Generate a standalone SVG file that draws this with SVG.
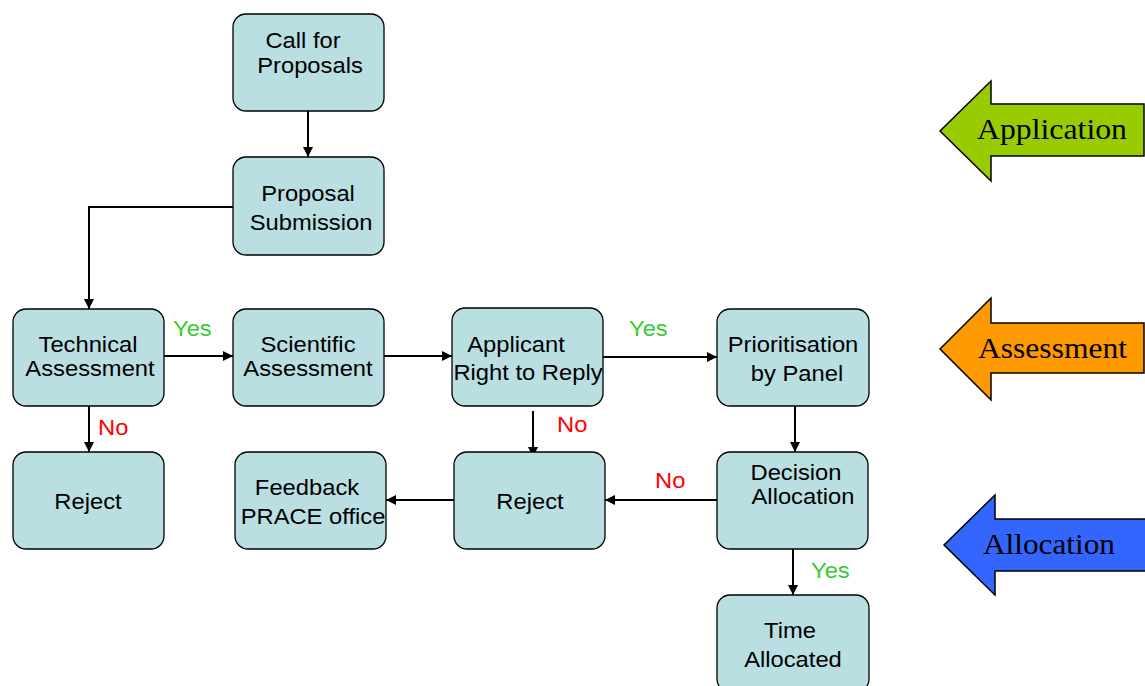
<svg xmlns="http://www.w3.org/2000/svg" width="1145" height="686" viewBox="0 0 1145 686">
  <style>
    .box { fill: #B9DFE2; stroke: #000; stroke-width: 1.3; }
    .lbl { font-family: "Liberation Sans", Arial, sans-serif; font-size: 21.6px; fill: #000; text-anchor: middle; }
    .yes { font-family: "Liberation Sans", Arial, sans-serif; font-size: 21.6px; fill: #33CC33; }
    .no { font-family: "Liberation Sans", Arial, sans-serif; font-size: 21.6px; fill: #FF0000; }
    .conn { fill: none; stroke: #000; stroke-width: 2; marker-end: url(#head); }
    .phase { stroke: #000; stroke-width: 1.5; }
    .phase-txt { font-family: "Liberation Serif", "Times New Roman", serif; font-size: 30px; fill: #000; }
  </style>
  <defs>
    <marker id="head" viewBox="0 0 10 10" refX="10" refY="5" markerWidth="5" markerHeight="5" orient="auto" markerUnits="strokeWidth">
      <path d="M0,0 L10,5 L0,10 z" fill="#000"/>
    </marker>
  </defs>

  <!-- connectors (labels use a slightly widened face) -->
  <g id="connectors">
    <path class="conn" d="M308,111 V157"/>
    <path class="conn" d="M233,207 H89 V309"/>
    <path class="conn" d="M164,356 H233"/>
    <path class="conn" d="M384,356 H452"/>
    <path class="conn" d="M603,357 H717"/>
    <path class="conn" d="M795,406 V452"/>
    <path class="conn" d="M717,500 H605"/>
    <path class="conn" d="M454,500 H386"/>
    <path class="conn" d="M533,411 V457"/>
    <path class="conn" d="M89,406 V452"/>
    <path class="conn" d="M793,549 V595"/>
    <text class="yes" transform="translate(173 336) scale(1.1 1)">Yes</text>
    <text class="yes" transform="translate(629 336) scale(1.1 1)">Yes</text>
    <text class="no" transform="translate(98 435) scale(1.1 1)">No</text>
    <text class="no" transform="translate(557 432) scale(1.1 1)">No</text>
    <text class="no" transform="translate(655 488) scale(1.1 1)">No</text>
    <text class="yes" transform="translate(811 578) scale(1.1 1)">Yes</text>
  </g>

  <!-- process nodes -->
  <g id="call">
    <rect class="box" x="233" y="14" width="151" height="97" rx="13"/>
    <text class="lbl" transform="translate(303 48) scale(1.1 1)">Call for</text>
    <text class="lbl" transform="translate(310 73) scale(1.1 1)">Proposals</text>
  </g>
  <g id="submission">
    <rect class="box" x="233" y="157" width="151" height="98" rx="13"/>
    <text class="lbl" transform="translate(308 201) scale(1.1 1)">Proposal</text>
    <text class="lbl" transform="translate(311 230) scale(1.1 1)">Submission</text>
  </g>
  <g id="technical">
    <rect class="box" x="13" y="309" width="151" height="97" rx="13"/>
    <text class="lbl" transform="translate(88 352) scale(1.1 1)">Technical</text>
    <text class="lbl" transform="translate(90 376) scale(1.1 1)">Assessment</text>
  </g>
  <g id="scientific">
    <rect class="box" x="233" y="309" width="151" height="97" rx="13"/>
    <text class="lbl" transform="translate(308 352) scale(1.1 1)">Scientific</text>
    <text class="lbl" transform="translate(308 376) scale(1.1 1)">Assessment</text>
  </g>
  <g id="reply">
    <rect class="box" x="452" y="308" width="151" height="98" rx="13"/>
    <text class="lbl" transform="translate(516 352) scale(1.1 1)">Applicant</text>
    <text class="lbl" transform="translate(528 380) scale(1.1 1)">Right to Reply</text>
  </g>
  <g id="prioritisation">
    <rect class="box" x="717" y="309" width="152" height="97" rx="13"/>
    <text class="lbl" transform="translate(793 352) scale(1.1 1)">Prioritisation</text>
    <text class="lbl" transform="translate(797 381) scale(1.1 1)">by Panel</text>
  </g>
  <g id="reject-technical">
    <rect class="box" x="13" y="452" width="151" height="97" rx="13"/>
    <text class="lbl" transform="translate(88 509) scale(1.1 1)">Reject</text>
  </g>
  <g id="feedback">
    <rect class="box" x="235" y="452" width="151" height="97" rx="13"/>
    <text class="lbl" transform="translate(307 495) scale(1.1 1)">Feedback</text>
    <text class="lbl" transform="translate(313 524) scale(1.1 1)">PRACE office</text>
  </g>
  <g id="reject">
    <rect class="box" x="454" y="452" width="151" height="97" rx="13"/>
    <text class="lbl" transform="translate(530 509) scale(1.1 1)">Reject</text>
  </g>
  <g id="decision">
    <rect class="box" x="717" y="452" width="151" height="97" rx="13"/>
    <text class="lbl" transform="translate(796 480) scale(1.1 1)">Decision</text>
    <text class="lbl" transform="translate(803 504) scale(1.1 1)">Allocation</text>
  </g>
  <g id="time">
    <rect class="box" x="717" y="595" width="152" height="97" rx="13"/>
    <text class="lbl" transform="translate(790 638) scale(1.1 1)">Time</text>
    <text class="lbl" transform="translate(793 667) scale(1.1 1)">Allocated</text>
  </g>

  <!-- phase arrows -->
  <g id="phase-application">
    <polygon class="phase" fill="#99CC00" points="940,131 991,81 991,104 1144,104 1144,156 991,156 991,181"/>
    <text class="phase-txt" x="977" y="139" textLength="150" lengthAdjust="spacingAndGlyphs">Application</text>
  </g>
  <g id="phase-assessment">
    <polygon class="phase" fill="#FF9900" points="940,349 991,298 991,323 1144,323 1144,373 991,373 991,400"/>
    <text class="phase-txt" x="978" y="358" textLength="149" lengthAdjust="spacingAndGlyphs">Assessment</text>
  </g>
  <g id="phase-allocation">
    <polygon class="phase" fill="#3366FF" points="944,545 995,495 995,519 1146,519 1146,571 995,571 995,595"/>
    <text class="phase-txt" x="983" y="554" textLength="132" lengthAdjust="spacingAndGlyphs">Allocation</text>
  </g>
</svg>
